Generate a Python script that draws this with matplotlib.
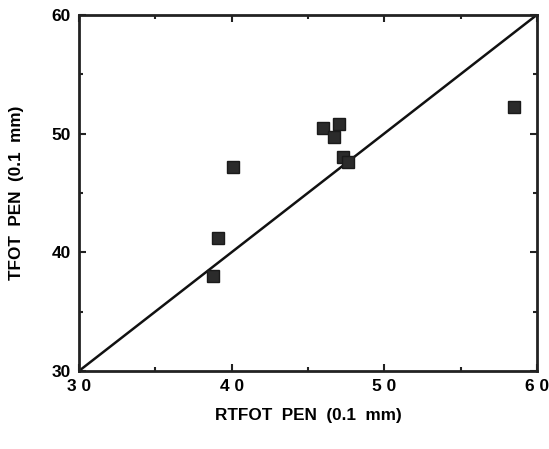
import matplotlib as mpl
mpl.use('Agg')
import matplotlib.pyplot as plt
from matplotlib.ticker import MultipleLocator

# RTFOT vs TFOT penetration (0.1 mm)
rtfot = [40.1, 39.1, 38.8, 46.0, 47.0, 46.7, 47.3, 47.6, 58.5]
tfot = [47.2, 41.2, 38.0, 50.5, 50.8, 49.7, 48.0, 47.6, 52.2]
eq_line = [30, 60]
xtick_vals = [30, 40, 50, 60]
xtick_text = ['3 0', '4 0', '5 0', '6 0']
ytick_vals = [30, 40, 50, 60]

plt.rcParams['font.family'] = ['Liberation Sans', 'DejaVu Sans']

fig = plt.figure(figsize=(5.49, 4.49), dpi=100)
ax = fig.add_axes([0.144, 0.174, 0.834, 0.793])

ax.plot(eq_line, eq_line, color='#111111', lw=1.8, zorder=2)
ax.plot(rtfot, tfot, 's', color='#2b2b2b', ms=8.5, mec='#1a1a1a', zorder=3)

ax.set_xlim(30, 60)
ax.set_ylim(30, 60)
ax.set_xticks(xtick_vals)
ax.set_xticklabels(xtick_text)
ax.set_yticks(ytick_vals)
ax.xaxis.set_minor_locator(MultipleLocator(5))
ax.yaxis.set_minor_locator(MultipleLocator(5))
ax.tick_params(which='both', direction='in', top=True, right=True, width=1.5, color='#222222')
ax.tick_params(which='major', length=5, labelsize=12.5, pad=6)
ax.tick_params(which='minor', length=3)
for lab in ax.get_xticklabels() + ax.get_yticklabels():
    lab.set_fontweight('bold')
for s in ax.spines.values():
    s.set_linewidth(2)
    s.set_color('#222222')

ax.set_xlabel('RTFOT  PEN  (0.1  mm)', fontsize=12.3, fontweight='bold', labelpad=10)
ax.set_ylabel('TFOT  PEN  (0.1  mm)', fontsize=12.3, fontweight='bold', labelpad=20)

fig.savefig('out.png', dpi=100)
